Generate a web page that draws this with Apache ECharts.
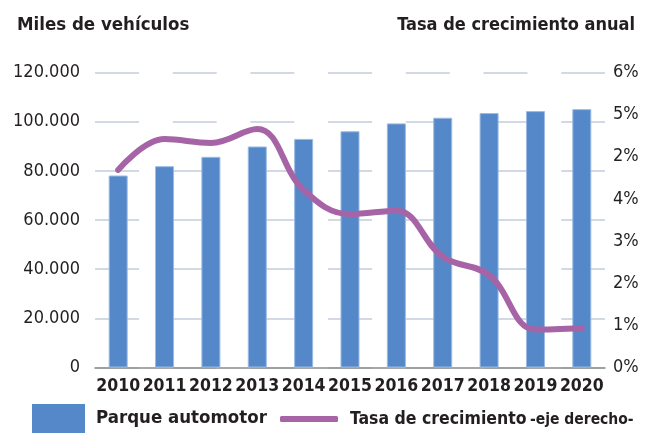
<!DOCTYPE html>
<html>
<head>
<meta charset="utf-8">
<script src="https://cdn.jsdelivr.net/npm/echarts@6/dist/echarts.min.js"></script>
<style>
html,body{margin:0;padding:0;background:#fff;}
#chart{width:654px;height:433px;}
</style>
</head>
<body>
<div id="chart"></div>
<script>
var years = ['2010','2011','2012','2013','2014','2015','2016','2017','2018','2019','2020'];
var parqueAutomotor = [78100, 81900, 85700, 89900, 93000, 96100, 99300, 101600, 103500, 104300, 105100];
// growth rate, in right-axis tick units (one unit per right-axis tick)
var tasaCrecimiento = [4.69, 5.42, 5.33, 5.66, 4.21, 3.64, 3.72, 2.63, 2.19, 0.9, 0.94];
var leftTickLabels = ['0', '20.000', '40.000', '60.000', '80.000', '100.000', '120.000'];
var rightTickLabels = ['0%', '1%', '2%', '3%', '4%', '2%', '5%', '6%'];

var FONT = '"Liberation Sans Narrow", "DejaVu Sans Condensed", sans-serif';
var INK = '#231f20';
var chart = echarts.init(document.getElementById('chart'), null, {renderer: 'canvas'});
chart.setOption({
  animation: false,
  backgroundColor: '#ffffff',
  textStyle: {fontFamily: FONT, color: INK},
  title: [
    {text: 'Miles de vehículos', left: 12, top: 11, textStyle: {fontFamily: FONT, fontSize: 18.5, fontWeight: 'bold', color: INK}},
    {text: 'Tasa de crecimiento anual', right: 14, top: 11, textStyle: {fontFamily: FONT, fontSize: 18, fontWeight: 'bold', color: INK}}
  ],
  grid: {left: 95, right: 49, top: 72.5, bottom: 65.5, containLabel: false},
  legend: [
    {
      data: [{name: 'Parque automotor', icon: 'rect'}], left: 32, top: 404, itemWidth: 53, itemHeight: 29, itemGap: 6, padding: 0,
      itemStyle: {borderWidth: 0},
      textStyle: {fontFamily: FONT, fontSize: 18.5, fontWeight: 'bold', color: INK, padding: [0, 0, 0, 6]}
    },
    {
      data: [{name: 'Tasa de crecimiento', icon: 'roundRect'}], left: 280, top: 410, itemWidth: 58, itemHeight: 6, itemGap: 8, padding: 0,
      formatter: function (n) { return '{a|' + n + '} {b|-eje derecho-}'; },
      textStyle: {
        fontFamily: FONT, color: INK, padding: [0, 0, 0, 7],
        rich: {
          a: {fontFamily: FONT, fontSize: 17.5, fontWeight: 'bold', color: INK},
          b: {fontFamily: FONT, fontSize: 15.5, fontWeight: 'bold', color: INK, padding: [2, 0, 0, 0]}
        }
      }
    }
  ],
  xAxis: {
    type: 'category', data: years,
    axisLine: {show: true, lineStyle: {color: '#8c8c8c', width: 1.5}},
    axisTick: {show: false},
    axisLabel: {interval: 0, fontFamily: FONT, fontSize: 17.5, fontWeight: 'bold', color: INK, margin: 10}
  },
  yAxis: [
    {
      type: 'value', min: 0, max: 120000, interval: 20000, position: 'left',
      axisLine: {show: false}, axisTick: {show: false},
      axisLabel: {fontFamily: FONT, fontSize: 18, color: INK, margin: 15,
        formatter: function (v) { return leftTickLabels[Math.round(v / 20000)]; }},
      splitLine: {show: true, lineStyle: {color: '#c3cddc', width: 1.5, type: [44, 33.7], dashOffset: 0}}
    },
    {
      type: 'value', min: 0, max: 7, interval: 1, position: 'right',
      axisLine: {show: false}, axisTick: {show: false},
      axisLabel: {fontFamily: FONT, fontSize: 18, color: INK, margin: 8,
        formatter: function (v) { return rightTickLabels[Math.round(v)]; }},
      splitLine: {show: false}
    }
  ],
  series: [
    {
      name: 'Parque automotor', type: 'bar', yAxisIndex: 0, data: parqueAutomotor,
      barWidth: '41%',
      itemStyle: {color: '#5588c8', borderColor: '#9bbbe2', borderWidth: 1}
    },
    {
      name: 'Tasa de crecimiento', type: 'line', yAxisIndex: 1, data: tasaCrecimiento,
      smooth: 0.4, symbol: 'none',
      lineStyle: {color: '#a664a7', width: 6, cap: 'round'},
      itemStyle: {color: '#a664a7'}
    }
  ]
});
</script>
</body>
</html>
